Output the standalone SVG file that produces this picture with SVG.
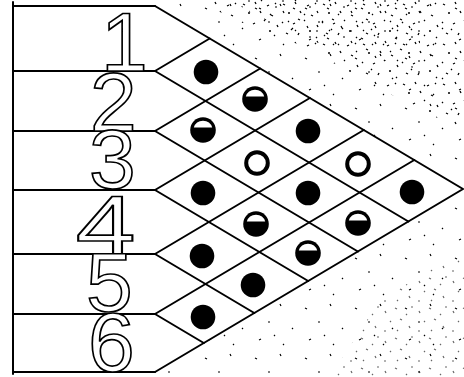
<svg xmlns="http://www.w3.org/2000/svg" width="464" height="377" viewBox="0 0 464 377">
<style>
.ln{stroke:#000;stroke-width:2;fill:none;stroke-linecap:round}
.dg{font-family:"Liberation Sans",Arial,sans-serif;font-size:84px;fill:#fff;stroke:#000;stroke-width:1.7}
</style>
<defs>
<pattern id="dense" width="40" height="40" patternUnits="userSpaceOnUse">
<path d="M3 4l2 1M15 2l1 2M27 6l2 -1M35 3l1 1M8 13l2 0M20 11l1 2M31 15l2 1M2 22l1 1M13 24l2 -1M24 20l1 1M37 25l1 2M6 33l2 1M18 35l1 -2M29 31l2 0M36 37l1 1M11 29l1 1" stroke="#000" stroke-width="1.3" fill="none"/>
</pattern>
<pattern id="dense2" width="34" height="30" patternUnits="userSpaceOnUse" x="7" y="5">
<path d="M4 6l1 2M14 3l2 1M25 9l1 1M30 2l2 0M9 17l1 -1M19 14l2 1M28 21l1 2M3 26l2 0M16 25l1 1" stroke="#000" stroke-width="1.2" fill="none"/>
</pattern>
<pattern id="sparse" width="50" height="50" patternUnits="userSpaceOnUse">
<path d="M5 8l2 1M30 4l1 2M18 22l2 0M42 28l1 1M9 40l2 -1M33 44l1 1M24 35l1 1" stroke="#000" stroke-width="1.2" fill="none"/>
</pattern>
<circle id="full" r="12.3" fill="#000"/>
<g id="half"><circle r="12.8" fill="#000"/><path d="M-9.2,-2.5A9.6,9.6 0 0 1 9.2,-2.5Z" fill="#fff"/></g>
<circle id="ring" r="10.8" fill="#fff" stroke="#000" stroke-width="4"/>
</defs>
<rect width="464" height="377" fill="#fff"/>
<g id="texture">
<polygon points="160,0 464,0 464,189 155,6" fill="url(#sparse)"/>
<polygon points="200,0 464,0 464,130 420,110 300,45 230,18" fill="url(#dense)"/>
<polygon points="230,0 420,0 420,70 300,38 250,12" fill="url(#dense2)"/>
<polygon points="464,189 464,377 200,377 155,372" fill="url(#sparse)"/>
<polygon points="464,250 464,377 330,377 380,300" fill="url(#dense2)" opacity="0.6"/>
</g>
<g id="connectors">
<path class="ln" d="M13,2V374"/>
<path class="ln" d="M13,6H155M13,71H155M13,131H155M13,190H155M13,254H155M13,314H155M13,372H155"/>
<path class="ln" d="M155,6L463,189L155,372"/>
<path class="ln" d="M155,71L408.4,221.5M155,131L357.9,251.5M155,190L308.2,281M155,254L254.3,313M155,314L203.8,343"/>
<path class="ln" d="M155,71L209.7,38.5M155,131L260.2,68.5M155,190L309.9,98M155,254L363.8,130M155,314L414.3,160"/>
</g>
<g id="label-1"><text class="dg" x="101" y="71">1</text></g>
<g id="label-2"><text class="dg" x="90" y="131">2</text></g>
<g id="label-3"><text class="dg" x="89" y="188">3</text></g>
<g id="label-4"><text class="dg" x="88" y="254" transform="translate(132,0) scale(1.28,1) translate(-132,0)">4</text></g>
<g id="label-5"><text class="dg" x="86" y="311">5</text></g>
<g id="label-6"><text class="dg" x="88" y="371">6</text></g>
<g id="cell-1"><use href="#full" x="206" y="72"/></g>
<g id="cell-2"><use href="#half" x="255" y="99"/></g>
<g id="cell-3"><use href="#half" x="203" y="130"/></g>
<g id="cell-4"><use href="#full" x="308" y="131"/></g>
<g id="cell-5"><use href="#ring" x="257" y="163"/></g>
<g id="cell-6"><use href="#ring" x="358" y="164"/></g>
<g id="cell-7"><use href="#full" x="203" y="193"/></g>
<g id="cell-8"><use href="#full" x="308" y="193"/></g>
<g id="cell-9"><use href="#full" x="412" y="192"/></g>
<g id="cell-10"><use href="#half" x="256" y="224"/></g>
<g id="cell-11"><use href="#half" x="358" y="223"/></g>
<g id="cell-12"><use href="#full" x="202" y="256"/></g>
<g id="cell-13"><use href="#half" x="308" y="253"/></g>
<g id="cell-14"><use href="#full" x="253" y="285"/></g>
<g id="cell-15"><use href="#full" x="203" y="317"/></g>
</svg>
